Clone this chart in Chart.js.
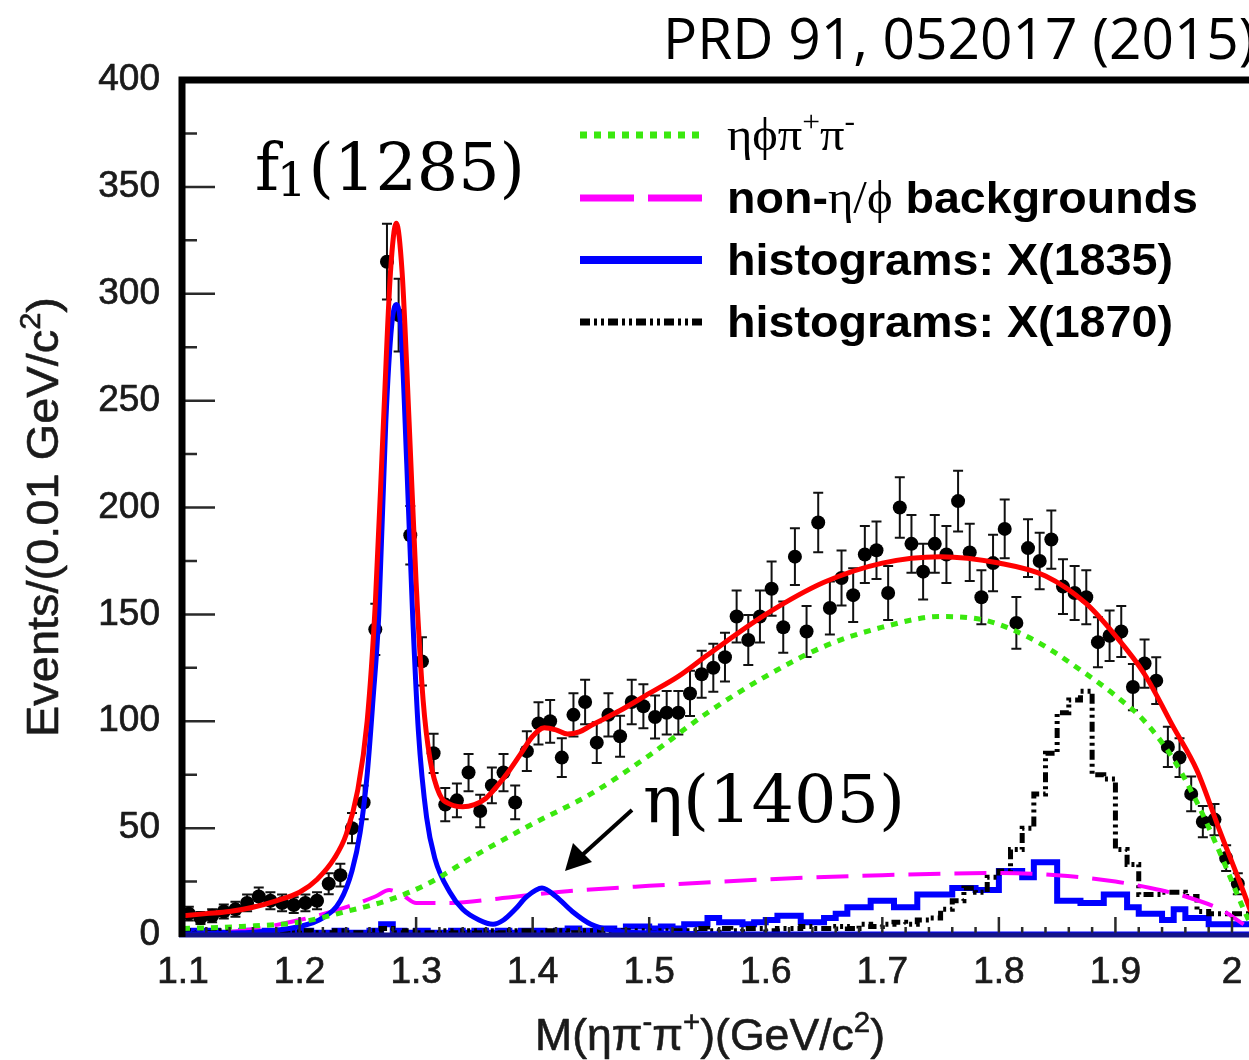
<!DOCTYPE html>
<html><head><meta charset="utf-8">
<script src="https://cdn.jsdelivr.net/npm/chart.js@4.4.1/dist/chart.umd.min.js"></script>
<style>html,body{margin:0;padding:0;background:#fff;overflow:hidden}#wrap{position:relative;width:1249px;height:1060px}</style>
</head><body><div id="wrap"><canvas id="c" width="1249" height="1060"></canvas></div>
<script>
// ---------- data ----------
const binCenters = [1.105,1.115,1.125,1.135,1.145,1.155,1.165,1.175,1.185,1.195,
  1.205,1.215,1.225,1.235,1.245,1.255,1.265,1.275,1.285,1.295,
  1.305,1.315,1.325,1.335,1.345,1.355,1.365,1.375,1.385,1.395,
  1.405,1.415,1.425,1.435,1.445,1.455,1.465,1.475,1.485,1.495,
  1.505,1.515,1.525,1.535,1.545,1.555,1.565,1.575,1.585,1.595,
  1.605,1.615,1.625,1.635,1.645,1.655,1.665,1.675,1.685,1.695,
  1.705,1.715,1.725,1.735,1.745,1.755,1.765,1.775,1.785,1.795,
  1.805,1.815,1.825,1.835,1.845,1.855,1.865,1.875,1.885,1.895,
  1.905,1.915,1.925,1.935,1.945,1.955,1.965,1.975,1.985,1.995,2.005];
const counts = [10,8,9,11,12,15,18,16,15,14,
  15,16,24,28,50,62,143,315,290,187,
  128,85,61,63,76,58,70,76,62,86,
  99,100,83,103,109,90,103,93,109,107,
  102,104,104,113,122,125,130,149,138,149,
  162,144,177,142,193,153,167,159,178,180,
  160,200,183,170,183,178,203,179,158,174,
  190,146,181,175,185,163,160,158,137,140,
  142,116,127,119,88,83,66,53,54,36,24];
const countErrors = [3.2,2.8,3,3.3,3.5,3.9,4.2,4,3.9,3.7,
  3.9,4,4.9,5.3,7.1,7.9,12,17.7,17,13.7,
  11.3,9.2,7.8,7.9,8.7,7.6,8.4,8.7,7.9,9.3,
  9.9,10,9.1,10.1,10.4,9.5,10.1,9.6,10.4,10.3,
  10.1,10.2,10.2,10.6,11,11.2,11.4,12.2,11.7,12.2,
  12.7,12,13.3,11.9,13.9,12.4,12.9,12.6,13.3,13.4,
  12.6,14.1,13.5,13,13.5,13.3,14.2,13.4,12.6,13.2,
  13.8,12.1,13.5,13.2,13.6,12.8,12.6,12.6,11.7,11.8,
  11.9,10.8,11.3,10.9,9.4,9.1,8.1,7.3,7.3,6,4.9];

const histX1835 = [1,2,1,2,1,1,2,1,2,1,
  1,2,1,1,2,1,1,2,5,2,
  1,2,1,1,2,1,2,1,2,1,
  2,2,1,2,3,2,2,3,2,4,
  4,3,4,3,5,5,8,6,6,5,
  6,7,9,9,6,6,8,10,13,13,
  16,16,13,13,19,19,19,22,22,21,
  21,30,30,27,34,34,16,16,15,15,
  19,19,13,10,10,7,12,8,8,5,5];
const histX1870 = [1,2,1,1,2,1,2,1,1,2,
  1,2,1,1,2,1,1,2,3,1,
  2,1,1,2,1,2,1,2,1,2,
  2,1,2,2,1,2,2,1,2,2,
  2,1,2,2,2,3,2,3,2,3,
  3,2,3,3,4,3,3,4,3,5,
  4,5,6,5,7,8,12,16,22,20,
  27,30,40,50,66,85,104,110,114,75,
  73,40,33,19,19,20,20,18,11,10,10];

const fitTotalX = [1.100,1.120,1.140,1.160,1.180,1.200,1.215,1.230,1.240,1.250,1.258,1.265,1.272,1.278,1.283,1.288,1.294,1.300,1.306,1.312,1.320,1.330,1.340,1.350,1.360,1.370,1.380,1.390,1.400,1.410,1.420,1.430,1.440,1.450,1.475,1.500,1.525,1.550,1.600,1.650,1.700,1.750,1.800,1.840,1.875,1.900,1.925,1.950,1.970,1.990,2.010,2.016];
const fitTotalY = [9,10,11,13,16,20,26,36,47,68,100,155,240,310,333,310,240,165,110,82,66,61,60,61,64,70,77,85,93,97,96,94,95,98,105,113,121,131,150,165,174,177,174,168,155,140,122,97,77,48,20,11];

const signalX = [1.100,1.150,1.200,1.220,1.235,1.245,1.252,1.258,1.263,1.268,1.274,1.279,1.283,1.287,1.292,1.297,1.302,1.309,1.316,1.329,1.340,1.354,1.366,1.375,1.385,1.395,1.408,1.420,1.434,1.450,1.470,1.500,1.600,2.016];
const signalY = [0.5,1,4,8,16,30,48,75,110,150,240,285,295,283,220,150,95,55,36,20,12,7,5,7,12,18,22,18,11,5,2,1,0.5,0.5];

const phaseSpaceX = [1.100,1.150,1.200,1.240,1.280,1.310,1.350,1.400,1.450,1.500,1.550,1.600,1.650,1.700,1.750,1.790,1.830,1.870,1.900,1.925,1.950,1.970,1.990,2.010,2.016];
const phaseSpaceY = [3,4,6,11,17,24,37,52,66,84,104,121,135,144,149,147,138,124,112,100,82,62,38,12,5];

const nonEtaPhiX = [1.100,1.150,1.200,1.240,1.265,1.277,1.290,1.300,1.330,1.370,1.420,1.500,1.600,1.700,1.800,1.850,1.900,1.930,1.960,1.990,2.010];
const nonEtaPhiY = [0,2,7,13,18,21,18,15,15,17,20,23,26,28,29,28,25,22,18,12,5];

const xTickValues = [1.1,1.2,1.3,1.4,1.5,1.6,1.7,1.8,1.9,2.0];
const xTickLabels = ['1.1','1.2','1.3','1.4','1.5','1.6','1.7','1.8','1.9','2'];
const yTickValues = [0,50,100,150,200,250,300,350,400];
const yTickLabels = ['0','50','100','150','200','250','300','350','400'];

// ---------- styling ----------
const C_RED = '#ff0000', C_BLUE = '#0000ff', C_GREEN = '#3ae80e', C_MAG = '#ff00ff', C_BLK = '#000000';
const DASH_GREEN = [7,7], DASH_MAG = [32,14], DASH_BLK = [10,4,3,4,3,4];

const pts = (xs, ys) => xs.map((x,i)=>({x, y: ys[i]}));
function histPts(vals){
  const p = binCenters.map((c,i)=>({x: c-0.005, y: vals[i]}));
  p.push({x: binCenters[binCenters.length-1]+0.015, y: vals[vals.length-1]});
  return p;
}

const errorBarPlugin = {
  id:'errbars',
  beforeDatasetsDraw(chart){
    const ctx = chart.ctx, xs = chart.scales.x, ys = chart.scales.y, a = chart.chartArea;
    ctx.save();
    ctx.beginPath(); ctx.rect(a.left, a.top, a.right-a.left, a.bottom-a.top); ctx.clip();
    ctx.strokeStyle = '#111'; ctx.lineWidth = 2;
    binCenters.forEach((c,i)=>{
      const px = xs.getPixelForValue(c);
      const y1 = ys.getPixelForValue(counts[i]-countErrors[i]);
      const y2 = ys.getPixelForValue(counts[i]+countErrors[i]);
      ctx.beginPath();
      ctx.moveTo(px,y1); ctx.lineTo(px,y2);
      ctx.moveTo(px-5,y1); ctx.lineTo(px+5,y1);
      ctx.moveTo(px-5,y2); ctx.lineTo(px+5,y2);
      ctx.stroke();
    });
    ctx.restore();
  }
};

// draws text runs (for sub/superscripts); optionally stretched to a target width
function drawRich(ctx, segs, x, y, align, targetW, strokeW){
  let w = 0;
  segs.forEach(s=>{ ctx.font = s.f; s.w = ctx.measureText(s.t).width; w += s.w + (s.dx||0); });
  const k = targetW ? targetW / w : 1;
  const left = align === 'center' ? x - w*k/2 : x;
  ctx.save();
  ctx.translate(left, y); ctx.scale(k, 1);
  if (strokeW){ ctx.strokeStyle = ctx.fillStyle; ctx.lineWidth = strokeW; ctx.lineJoin = 'round'; }
  let cx = 0;
  segs.forEach(s=>{
    ctx.font = s.f;
    if (strokeW) ctx.strokeText(s.t, cx + (s.dx||0), (s.dy||0));
    ctx.fillText(s.t, cx + (s.dx||0), (s.dy||0));
    cx += s.w + (s.dx||0);
  });
  ctx.restore();
  return w*k;
}

const framePlugin = {
  id:'frame',
  afterDatasetsDraw(chart){
    const ctx = chart.ctx, xs = chart.scales.x, ys = chart.scales.y, a = chart.chartArea;
    ctx.save();
    ctx.strokeStyle = '#2a2a2a'; ctx.lineWidth = 2.5;
    ctx.beginPath();
    yTickValues.forEach(v=>{ const py = ys.getPixelForValue(v); ctx.moveTo(a.left, py); ctx.lineTo(a.left+32, py); });
    for (let v = 25; v < 400; v += 50){ const py = ys.getPixelForValue(v); ctx.moveTo(a.left, py); ctx.lineTo(a.left+14, py); }
    xTickValues.forEach(v=>{ const px = xs.getPixelForValue(v); ctx.moveTo(px, a.bottom); ctx.lineTo(px, a.bottom-18); });
    for (let k = 0; k <= 46; k++){ if (k % 5 === 0) continue; const px = xs.getPixelForValue(1.1 + k*0.02); if (px > a.right) break; ctx.moveTo(px, a.bottom); ctx.lineTo(px, a.bottom-8); }
    ctx.stroke();
    ctx.lineCap = 'butt';
    ctx.strokeStyle = '#14148a'; ctx.lineWidth = 5;
    ctx.beginPath(); ctx.moveTo(a.left-4, a.bottom); ctx.lineTo(a.right, a.bottom); ctx.stroke();
    ctx.strokeStyle = '#000'; ctx.lineWidth = 7;
    ctx.beginPath(); ctx.moveTo(a.left-1, a.bottom+2); ctx.lineTo(a.left-1, a.top); ctx.lineTo(a.right, a.top); ctx.stroke();
    ctx.restore();
  },
  afterDraw(chart){
    const ctx = chart.ctx;
    ctx.save();
    ctx.fillStyle = '#000'; ctx.textBaseline = 'alphabetic'; ctx.textAlign = 'left';
    // publication reference
    ctx.font = '52px "Open Sans"';
    const prd = 'PRD 91, 052017 (2015)';
    const fs = 52 * 593 / ctx.measureText(prd).width;
    ctx.font = fs.toFixed(1) + 'px "Open Sans"';
    ctx.fillText(prd, 663, 59);

    // axis titles
    ctx.fillStyle = '#1a1a1a';
    const AF = '44px "Liberation Sans"', AS = '29px "Liberation Sans"';
    drawRich(ctx, [
      {t:'M(ηπ', f:AF}, {t:'-', f:AS, dy:-18}, {t:'π', f:AF}, {t:'+', f:AS, dy:-18},
      {t:')(GeV/c', f:AF}, {t:'2', f:AS, dy:-18}, {t:')', f:AF}
    ], 710, 1050, 'center', 350, 0.6);
    ctx.save();
    ctx.translate(58, 517); ctx.rotate(-Math.PI/2);
    drawRich(ctx, [
      {t:'Events/(0.01 GeV/c', f:AF}, {t:'2', f:AS, dy:-18}, {t:')', f:AF}
    ], 0, 0, 'center', 440, 0.6);
    ctx.restore();

    // legend
    const LX0 = 580, LX1 = 702, TX = 727;
    const rows = [
      {y:135, color:C_GREEN, dash:DASH_GREEN, w:7},
      {y:198, color:C_MAG, dash:[54,14], w:7},
      {y:260, color:C_BLUE, dash:[], w:8},
      {y:322, color:C_BLK, dash:DASH_BLK, w:7}
    ];
    rows.forEach(r=>{
      ctx.save(); ctx.strokeStyle = r.color; ctx.lineWidth = r.w; ctx.setLineDash(r.dash); ctx.lineCap='butt';
      ctx.beginPath(); ctx.moveTo(LX0, r.y); ctx.lineTo(LX1, r.y); ctx.stroke(); ctx.restore();
    });
    ctx.fillStyle = '#000';
    const LB = 'bold 44px "Liberation Sans"', LG = '46px "Liberation Serif"', LGS = '30px "Liberation Serif"';
    drawRich(ctx, [{t:'ηϕπ', f:LG}, {t:'+', f:LGS, dy:-19}, {t:'π', f:LG}, {t:'-', f:LGS, dy:-19}], TX, 150, 'left', 128);
    drawRich(ctx, [{t:'non-', f:LB}, {t:'η/ϕ', f:LG}, {t:' backgrounds', f:LB}], TX, 213, 'left', 471);
    drawRich(ctx, [{t:'histograms: X(1835)', f:LB}], TX, 275, 'left', 446);
    drawRich(ctx, [{t:'histograms: X(1870)', f:LB}], TX, 337, 'left', 446);

    // resonance annotations
    const RF = '66px "DejaVu Serif"', RS = '47px "DejaVu Serif"';
    drawRich(ctx, [{t:'f', f:RF}, {t:'1', f:RS, dy:6, dx:-2}, {t:'(1285)', f:RF, dx:2}], 255, 190, 'left', 270);
    drawRich(ctx, [{t:'η(1405)', f:RF}], 643, 822, 'left', 262);

    // arrow
    ctx.strokeStyle = '#000'; ctx.lineWidth = 4;
    ctx.beginPath(); ctx.moveTo(632, 810); ctx.lineTo(580, 857); ctx.stroke();
    ctx.beginPath(); ctx.moveTo(565, 871); ctx.lineTo(573, 843); ctx.lineTo(592, 862); ctx.closePath(); ctx.fill();
    ctx.restore();
  }
};

new Chart(document.getElementById('c'), {
  type: 'scatter',
  data: { datasets: [
    {label:'fit', data: pts(fitTotalX, fitTotalY), showLine:true, borderColor:C_RED, borderWidth:5, pointRadius:0, cubicInterpolationMode:'monotone'},
    {label:'ηϕπ+π-', data: pts(phaseSpaceX, phaseSpaceY), showLine:true, borderColor:C_GREEN, borderWidth:5, borderDash:DASH_GREEN, pointRadius:0, cubicInterpolationMode:'monotone'},
    {label:'signal', data: pts(signalX, signalY), showLine:true, borderColor:C_BLUE, borderWidth:5, pointRadius:0, cubicInterpolationMode:'monotone'},
    {label:'non-η/ϕ backgrounds', data: pts(nonEtaPhiX, nonEtaPhiY), showLine:true, borderColor:C_MAG, borderWidth:4, borderDash:DASH_MAG, pointRadius:0, cubicInterpolationMode:'monotone'},
    {label:'data', data: pts(binCenters, counts), showLine:false, pointRadius:7, pointBackgroundColor:'#000', pointBorderWidth:0},
    {label:'histograms: X(1870)', data: histPts(histX1870), showLine:true, stepped:'after', borderColor:C_BLK, borderWidth:5, borderDash:DASH_BLK, pointRadius:0},
    {label:'histograms: X(1835)', data: histPts(histX1835), showLine:true, stepped:'after', borderColor:C_BLUE, borderWidth:6, pointRadius:0}
  ]},
  options: {
    responsive:false, animation:false, devicePixelRatio:1, events:[],
    layout:{autoPadding:false, padding:{top:80, right:0, left:0, bottom:0}},
    plugins:{legend:{display:false}, tooltip:{enabled:false}},
    scales:{
      x:{type:'linear', min:1.1, max:2.0146,
        afterFit(s){ s.height = 125; s.paddingLeft = 0; s.paddingRight = 0; },
        afterBuildTicks(s){ s.ticks = xTickValues.map(v=>({value:v})); },
        grid:{display:false, drawTicks:false}, border:{display:false},
        ticks:{autoSkip:false, maxRotation:0, padding:16, color:'#1a1a1a', textStrokeColor:'#1a1a1a', textStrokeWidth:0.7,
          font:{family:'"Liberation Sans"', size:37}, callback:(v,i)=>xTickLabels[i]}
      },
      y:{type:'linear', min:0, max:400,
        afterFit(s){ s.width = 183; s.paddingTop = 0; s.paddingBottom = 0; },
        afterBuildTicks(s){ s.ticks = yTickValues.map(v=>({value:v})); },
        grid:{display:false, drawTicks:false}, border:{display:false},
        ticks:{autoSkip:false, padding:23, color:'#1a1a1a', textStrokeColor:'#1a1a1a', textStrokeWidth:0.7,
          font:{family:'"Liberation Sans"', size:37}, callback:(v,i)=>yTickLabels[i]}
      }
    }
  },
  plugins:[errorBarPlugin, framePlugin]
});
</script></body></html>
